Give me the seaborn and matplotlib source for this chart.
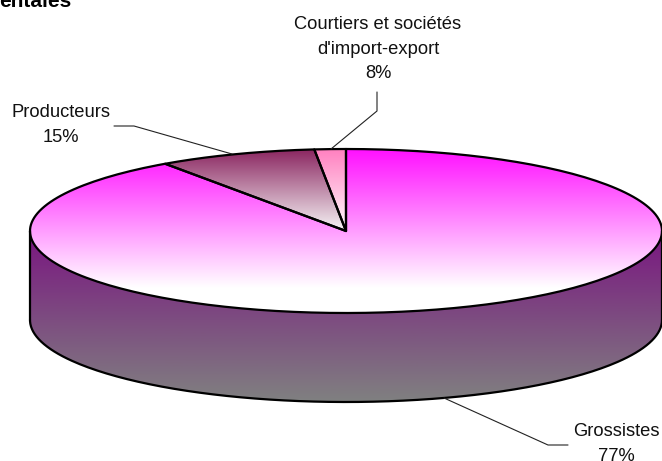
import numpy as np
import pandas as pd
import seaborn as sns
import matplotlib.pyplot as plt
from matplotlib.colors import LinearSegmentedColormap
from matplotlib.patches import Polygon

# labels as printed on the chart
categories = ['Grossistes', 'Producteurs', "Courtiers et sociétés\nd'import-export"]
printed_pct = [77, 15, 8]
# shares as the slices are actually drawn (the picture does not follow the printed numbers)
drawn_share = [90.3, 8.1, 1.6]
title_tail = 'entales'

sns.set_theme(style='white')
plt.rcParams['font.family'] = ['Liberation Sans', 'DejaVu Sans']

W, H = 662, 461
fig = plt.figure(figsize=(W / 100, H / 100), dpi=100)
ax = fig.add_axes([0, 0, 1, 1])
ax.set_xlim(0, W)
ax.set_ylim(H, 0)
ax.axis('off')

cx, cy, rx, ry, depth = 346, 231, 316, 82, 89


def rim(a0, a1, n=200):
    # a is clockwise from the top of the disc, in degrees
    t = np.radians(np.linspace(a0, a1, n))
    return cx + rx * np.sin(t), cy - ry * np.cos(t)


def gradient(poly_xy, top, bottom, c0, c1):
    poly = Polygon(poly_xy, closed=True, fc='none', ec='none', transform=ax.transData)
    ax.add_patch(poly)
    cmap = LinearSegmentedColormap.from_list('g', [c0, c1])
    im = ax.imshow(np.linspace(0, 1, 256)[:, None], cmap=cmap, aspect='auto',
                   extent=(0, W, bottom, top), zorder=1)
    im.set_clip_path(poly)


def outline(x, y, lw=1.6, color='black'):
    df = pd.DataFrame({'x': x, 'y': y, 'i': np.arange(len(x))})
    sns.lineplot(data=df, x='x', y='y', sort=False, estimator=None, color=color,
                 lw=lw, ax=ax, zorder=3, legend=False)


# side wall
sx, sy = rim(90, 270)
side = np.column_stack([np.r_[sx, sx[::-1]], np.r_[sy, sy[::-1] + depth]])
gradient(side, 240, 401, '#7a1a80', '#808080')

# slices, clockwise from the top
angles = np.r_[0, np.cumsum(drawn_share)] * 3.6
styles = [(149, 288, '#ff10ff', '#ffffff'),
          (149, 232, '#8a2560', '#f8f8f8'),
          (149, 232, '#ff80c0', '#ffffff')]
for i in range(len(drawn_share)):
    x, y = rim(angles[i], angles[i + 1])
    xy = np.column_stack([np.r_[cx, x], np.r_[cy, y]])
    gradient(xy, *styles[i])
    outline(np.r_[cx, x, cx], np.r_[cy, y, cy])

# lower edge and the two side edges
bx, by = rim(90, 270)
outline(bx, by + depth)
outline([cx + rx, cx + rx], [cy, cy + depth])
outline([cx - rx, cx - rx], [cy, cy + depth])

# leader lines
outline([444, 548, 568], [398, 445, 445], lw=0.8, color='#222222')
outline([114, 134, 232], [126, 126, 154], lw=0.8, color='#222222')
outline([377, 377, 331], [92, 111, 149], lw=0.8, color='#222222')

fs = 13.2
ax.text(616, 444, f'{categories[0]}\n{printed_pct[0]}%', ha='center', va='center', fontsize=fs,
        color='#111111', linespacing=1.55)
ax.text(61, 125, f'{categories[1]}\n{printed_pct[1]}%', ha='center', va='center', fontsize=fs,
        color='#111111', linespacing=1.55)
ax.text(378, 49, f'{categories[2]}\n{printed_pct[2]}%', ha='center', va='center', fontsize=fs,
        color='#111111', linespacing=1.55)
ax.text(-1, 7, title_tail, ha='left', va='baseline', fontsize=15, fontweight='bold', color='black')

ax.set_xlim(0, W)
ax.set_ylim(H, 0)
ax.set_xlabel('')
ax.set_ylabel('')
fig.savefig('out.png', dpi=100, facecolor='white')
